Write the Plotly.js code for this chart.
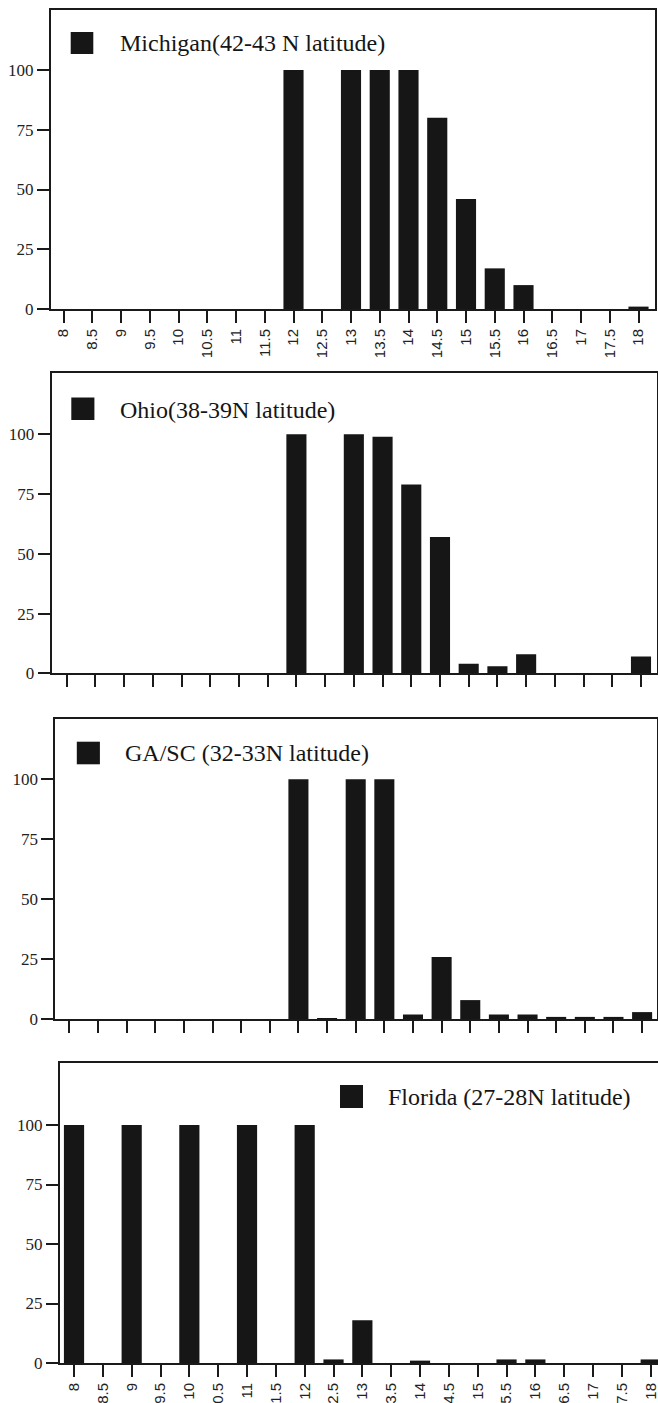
<!DOCTYPE html>
<html>
<head>
<meta charset="utf-8">
<script src="https://cdn.plot.ly/plotly-3.0.1.min.js"></script>
<style>
  html, body { margin: 0; padding: 0; background: #ffffff; }
  #chart { width: 658px; height: 1403px; }
</style>
</head>
<body>
<div id="chart"></div>
<script>
// ---- data ----
const categories = ['8','8.5','9','9.5','10','10.5','11','11.5','12','12.5','13','13.5','14','14.5','15','15.5','16','16.5','17','17.5','18'];
const michigan = [0,0,0,0,0,0,0,0,100,0,100,100,100,80,46,17,10,0,0,0,1];
const ohio     = [0,0,0,0,0,0,0,0,100,0,100,99,79,57,4,3,8,0,0,0,7];
const gasc     = [0,0,0,0,0,0,0,0,100,0.5,100,100,2,26,8,2,2,1,1,1,3];
const florida  = [100,0,100,0,100,0,100,0,100,1.5,18,0,1,0,0,1.5,1.5,0,0,0,1.5];
const seriesNames = ['Michigan(42-43 N latitude)','Ohio(38-39N latitude)','GA/SC (32-33N latitude)','Florida (27-28N latitude)'];
const yTickVals = [0,25,50,75,100];
const yTickText = ['0','25','50','75','100'];

// ---- layout helpers ----
const W = 658, H = 1403;
const px = x => x / W;
const py = y => 1 - y / H;
const BAR = '#161616';
const INK = '#1a1a1a';

const panels = [
  {data: michigan, dom: [51, 655],  yb: 309,    ppu: 2.39, ytop: 125, xr: [-0.435, 20.574], labels: true,
   sq: [70.7, 93.3, 32, 54], tx: 118, ty: 43, mirrorY: true},
  {data: ohio,     dom: [51.7, 656.5], yb: 673.3, ppu: 2.39, ytop: 125.5, xr: [-0.522, 20.54], labels: false,
   sq: [71.3, 94.4, 397.5, 420], tx: 117.5, ty: 409.5, mirrorY: true},
  {data: gasc,     dom: [55.3, 657], yb: 1019.3, ppu: 2.4, ytop: 125, xr: [-0.489, 20.52], labels: false,
   sq: [76.8, 99.9, 741.7, 764.3], tx: 123, ty: 753, mirrorY: true},
  {data: florida,  dom: [60, 658],   yb: 1363,   ppu: 2.38, ytop: 126, xr: [-0.486, 20.253], labels: true,
   sq: [340, 363, 1085, 1108], tx: 386, ty: 1096.5, mirrorY: false}
];

const traces = [];
const layout = {
  width: W, height: H,
  margin: {l: 0, r: 0, t: 0, b: 0},
  paper_bgcolor: '#ffffff',
  plot_bgcolor: '#ffffff',
  showlegend: false,
  bargap: 0.3,
  shapes: [],
  annotations: []
};

panels.forEach((p, i) => {
  const n = i === 0 ? '' : String(i + 1);
  traces.push({
    type: 'bar',
    x: categories,
    y: p.data,
    name: seriesNames[i],
    xaxis: 'x' + n,
    yaxis: 'y' + n,
    marker: {color: BAR, line: {width: 0}},
    hoverinfo: 'skip'
  });
  const ytopPx = p.yb - p.ytop * p.ppu;
  layout['xaxis' + n] = {
    type: 'category',
    domain: [px(p.dom[0]), px(p.dom[1])],
    anchor: 'y' + n,
    range: p.xr,
    showgrid: false,
    zeroline: false,
    showline: true,
    linecolor: INK,
    linewidth: 2,
    mirror: true,
    ticks: 'outside',
    ticklen: 12,
    tickwidth: 2,
    tickcolor: INK,
    showticklabels: p.labels,
    tickangle: -90,
    tickfont: {family: 'Liberation Sans, Arial, sans-serif', size: 15, color: '#222'},
    fixedrange: true
  };
  layout['yaxis' + n] = {
    domain: [py(p.yb), py(ytopPx)],
    anchor: 'x' + n,
    range: [0, p.ytop],
    tickvals: yTickVals,
    ticktext: yTickText,
    showgrid: false,
    zeroline: false,
    showline: true,
    linecolor: INK,
    linewidth: 2,
    mirror: p.mirrorY,
    ticks: 'outside',
    ticklen: 12,
    tickwidth: 2,
    tickcolor: INK,
    tickfont: {family: 'Liberation Serif, Times New Roman, serif', size: 17, color: '#222'},
    fixedrange: true
  };
  layout.shapes.push({
    type: 'rect', xref: 'paper', yref: 'paper',
    x0: px(p.sq[0]), x1: px(p.sq[1]), y0: py(p.sq[3]), y1: py(p.sq[2]),
    fillcolor: BAR, line: {width: 0}
  });
  layout.annotations.push({
    xref: 'paper', yref: 'paper',
    x: px(p.tx), y: py(p.ty),
    xanchor: 'left', yanchor: 'middle',
    showarrow: false,
    text: seriesNames[i],
    font: {family: 'Liberation Serif, Times New Roman, serif', size: 24, color: '#151515'}
  });
});

Plotly.newPlot('chart', traces, layout, {staticPlot: true, displayModeBar: false});
</script>
</body>
</html>
